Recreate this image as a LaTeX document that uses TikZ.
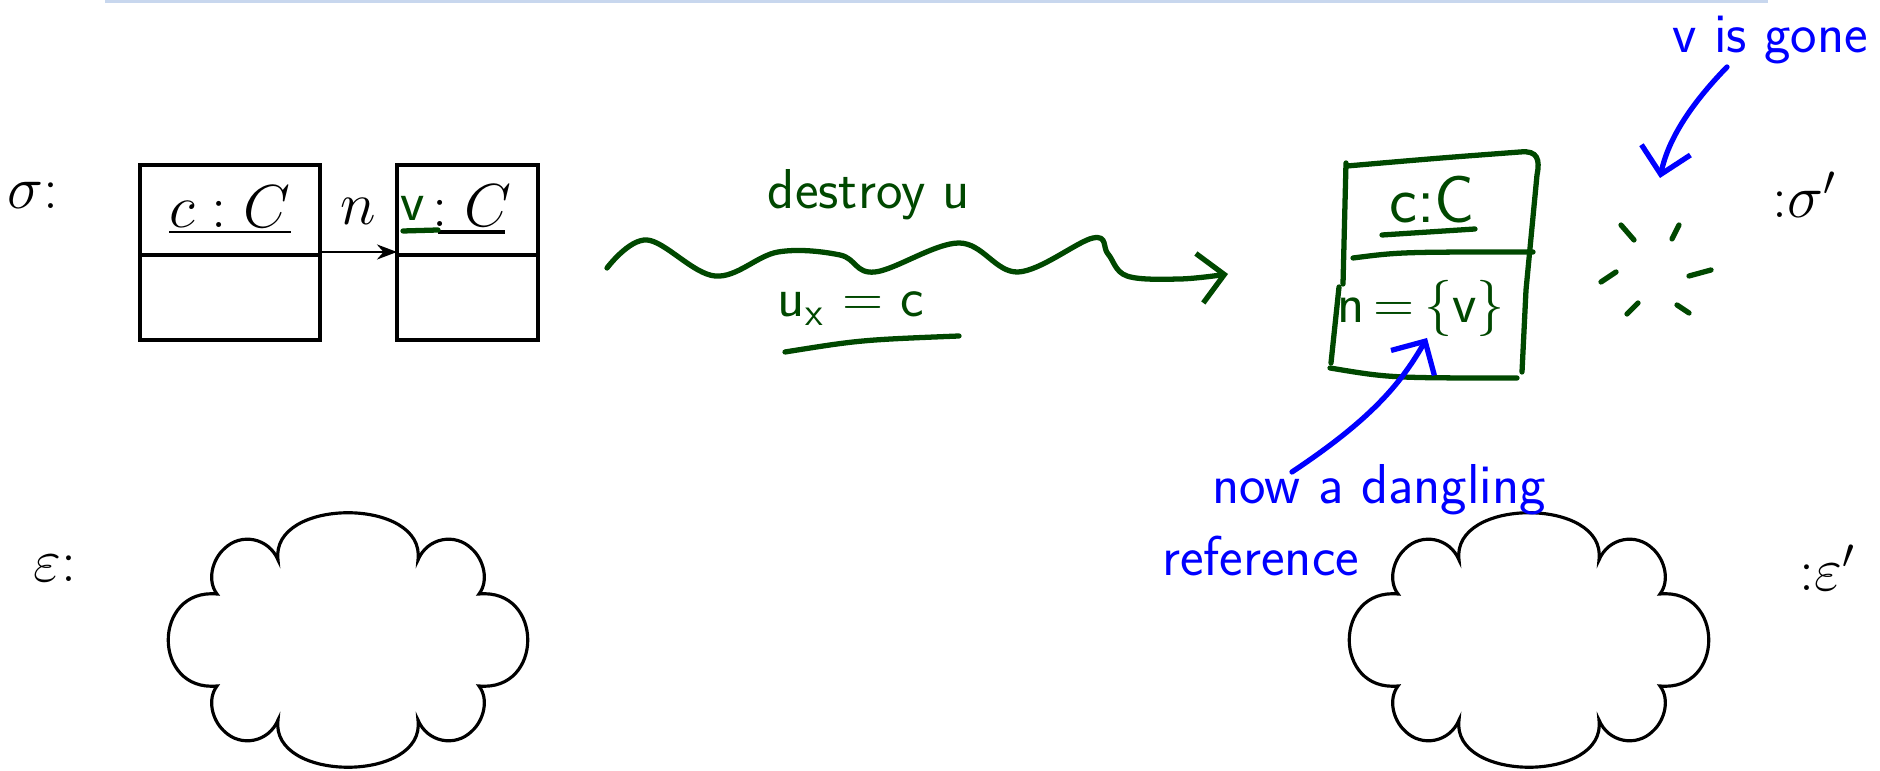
\documentclass[tikz,border=0pt]{standalone}
\usepackage{tikz}
\usetikzlibrary{arrows.meta, positioning, calc}
\definecolor{hgreen}{RGB}{0,72,0}
\definecolor{hblue}{RGB}{0,0,255}
\definecolor{rulecol}{RGB}{200,215,238}
\tikzset{
  umlpart/.style={draw, line width=0.9pt, inner sep=0pt, outer sep=0pt},
  mathlbl/.style={font=\fontsize{17}{20}\selectfont, inner sep=1pt},
  handtxt/.style={font=\fontsize{16}{19}\selectfont\sffamily, inner sep=1pt},
  greenpen/.style={hgreen, line width=1.5pt, line cap=round, line join=round},
  bluepen/.style={hblue, line width=1.5pt, line cap=round, line join=round},
  penbarb/.style={-{Straight Barb[length=2.5mm, width=5mm]}},
  envcloud/.pic={
    \draw[line width=0.9pt] (-70,-80) .. controls (-78,-143) and (78,-143) .. (70,-80)
      .. controls (79,-102) and (107,-108) .. (124,-91) .. controls (136,-80) and (141,-59) .. (131,-46)
      .. controls (196,-52) and (196,52) .. (131,46)
      .. controls (141,59) and (136,80) .. (124,91) .. controls (107,108) and (79,102) .. (70,80)
      .. controls (78,143) and (-78,143) .. (-70,80)
      .. controls (-79,102) and (-107,108) .. (-124,91) .. controls (-136,80) and (-141,59) .. (-131,46)
      .. controls (-196,52) and (-196,-52) .. (-131,-46)
      .. controls (-141,-59) and (-136,-80) .. (-124,-91) .. controls (-107,-108) and (-79,-102) .. cycle;
  },
}
\begin{document}
\begin{tikzpicture}[x=0.1mm, y=-0.1mm]
  \useasboundingbox (0,0) rectangle (1880,771);
  % header rule
  \draw[rulecol, line width=1.2pt] (105,1) -- (1768,1);

  % --- state before ---
  \node[mathlbl] (sigma) at (33,195) {$\sigma$:};
  \node[mathlbl] (eps) at (55,568) {$\varepsilon$:};
  % object c
  \node[umlpart, minimum width=18mm, minimum height=9mm, anchor=north west] (ctop) at (140,165) {};
  \node[umlpart, minimum width=18mm, minimum height=8.5mm, anchor=north] (cbot) at (ctop.south) {};
  \node[mathlbl] (cname) at (ctop) {$\underline{c : C}$};
  % object v
  \node[umlpart, minimum width=14.1mm, minimum height=9mm, anchor=north west] (vtop) at (397,165) {};
  \node[umlpart, minimum width=14.1mm, minimum height=8.5mm, anchor=north] (vbot) at (vtop.south) {};
  \node[mathlbl] (vtype) at (472,206) {$: C$};
  \node[handtxt, hgreen] (vname) at (413,208) {v};
  \draw[line width=0.9pt] (438,232) -- (505,232);
  \draw[greenpen] (403,231) -- (438,230);
  % link n
  \draw[-{Stealth[length=2mm, width=1.5mm]}, line width=0.7pt] ([yshift=0.3mm]ctop.south east)
    -- node[mathlbl, above=2.3mm] (nlbl) {$n$} ([yshift=0.3mm]vtop.south west);
  \pic (envl) at (348,640) {envcloud};

  % transition
  \coordinate (wstart) at (607,268);
  \coordinate (wend) at (1228,274);
  \draw[greenpen, penbarb] plot[smooth, tension=0.6] coordinates {(wstart) (647,240) (715,276)
    (778,252) (840,255) (875,272) (959,243) (1018,272) (1093,238) (1108,254) (1127,276)
    (1180,279) (wend)};
  \node[handtxt, hgreen] (act) at (869,195) {destroy u};
  \node[handtxt, hgreen] (guard) at (851,309) {u\textsubscript{x} = c};
  \draw[greenpen] (785,352) .. controls (860,340) .. (959,336);

  % --- state after ---
  \draw[greenpen] (1346,163) -- (1343,284);
  \draw[greenpen] (1339,287) -- (1331,363);
  \draw[greenpen] (1347,166) .. controls (1440,158) .. (1520,152)
    .. controls (1538,150) and (1540,160) .. (1537,175) -- (1526,290) -- (1522,372);
  \draw[greenpen] (1353,258) .. controls (1400,252) .. (1533,252);
  \draw[greenpen] (1330,368) .. controls (1390,378) .. (1517,378);
  \node[handtxt, hgreen, font=\fontsize{19}{22}\selectfont\sffamily] (hcname) at (1432,200) {c:C};
  \draw[greenpen] (1382,235) -- (1475,229);
  \node[handtxt, hgreen] (hfield) at (1421,308) {n\,=\,\{v\}};
  % v exploded
  \foreach \a/\b/\c/\d in {1621/225/1634/240, 1679/225/1672/239, 1601/282/1616/272,
    1689/276/1711/270, 1627/314/1638/303, 1677/305/1689/313}
    \draw[greenpen] (\a,\b) -- (\c,\d);
  \node[mathlbl] (sigmap) at (1805,195) {:$\sigma'$};
  \node[mathlbl] (epsp) at (1828,568) {:$\varepsilon'$};
  \pic (envr) at (1529,640) {envcloud};

  % annotations
  \node[handtxt, hblue, anchor=west] (gone) at (1668,40) {v is gone};
  \coordinate (gonetail) at (1727,67);
  \coordinate (gonetip) at (1660,178);
  \draw[bluepen, penbarb] (gonetail) .. controls (1690,105) and (1668,140) .. (gonetip);
  \node[handtxt, hblue, anchor=west] (dangl) at (1208,490) {now a dangling};
  \node[handtxt, hblue, anchor=west] (refw) at (1158,556) {reference};
  \coordinate (dangltail) at (1292,472);
  \coordinate (dangltip) at (1427,338);
  \draw[bluepen, penbarb] (dangltail) .. controls (1370,420) and (1400,385) .. (dangltip);
\end{tikzpicture}
\end{document}
